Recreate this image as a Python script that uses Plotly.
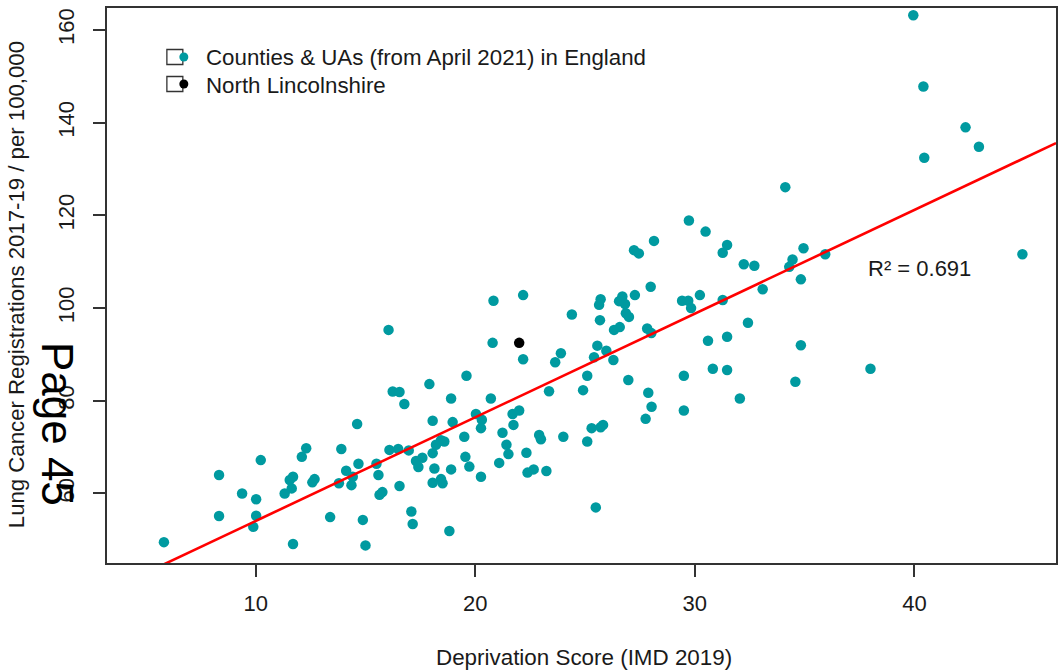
import plotly.graph_objects as go

# ---------------- data ----------------
imd_score = [
    16.05, 16.24, 16.55, 16.77, 14.62, 12.30, 12.10, 13.90, 16.09, 16.49, 16.97, 10.23,
    14.68, 15.50, 15.59, 8.33, 11.70, 11.55, 12.68, 12.58, 14.12, 14.42, 13.79, 14.36,
    16.55, 9.38, 11.32, 11.64, 10.02, 15.77, 15.64, 8.33, 10.02, 9.89, 13.39, 14.88,
    17.09, 17.15, 5.82, 11.70, 15.00, 17.30, 17.59, 17.41,
    29.73, 28.14, 27.23, 27.45, 27.99, 22.18, 20.83, 24.40, 25.71, 25.64, 26.55, 26.70,
    26.82, 26.86, 27.00, 27.27, 25.68, 26.32, 26.58, 27.83, 28.02, 29.42, 29.70, 29.83,
    30.23, 20.79, 22.18, 23.90, 23.64, 25.56, 25.41, 25.97, 26.29, 29.50, 26.97, 25.10,
    24.91, 23.36, 19.60, 17.91, 18.90, 20.71, 27.88, 28.03, 27.76, 29.50, 20.03, 20.30,
    21.70, 22.00, 18.06, 18.97, 20.26, 21.74, 19.50, 21.24, 22.91, 22.99, 24.01, 25.30,
    25.71, 25.82, 25.10, 18.44, 18.59, 18.21, 18.06, 19.55, 19.73, 21.42, 21.51, 21.09,
    22.33, 18.14, 18.90, 20.26, 22.38, 22.66, 23.24, 18.06, 18.44, 18.51, 25.49, 18.82,
    39.95, 40.41, 42.33, 42.94, 40.45, 34.12, 30.49, 31.47, 31.27, 34.95, 34.45, 34.30,
    32.23, 32.71, 34.83, 35.94, 44.92, 31.27, 33.09, 32.42, 30.60, 31.47, 34.83, 30.82,
    31.47, 34.58, 38.00, 32.05,
]
lung_rate = [
    95.3, 82.0, 81.9, 79.3, 75.0, 69.75, 67.9, 69.6, 69.4, 69.6, 69.3, 67.2,
    66.4, 66.4, 64.0, 64.0, 63.6, 62.9, 63.1, 62.4, 64.9, 63.6, 62.2, 61.8,
    61.6, 60.0, 60.0, 61.1, 58.75, 60.3, 59.7, 55.15, 55.2, 52.8, 54.9, 54.3,
    56.1, 53.4, 49.5, 49.1, 48.8, 67.0, 67.7, 65.7,
    118.9, 114.5, 112.5, 111.8, 104.6, 102.8, 101.6, 98.6, 101.9, 100.7, 101.5, 102.5,
    100.9, 98.9, 98.1, 102.8, 97.4, 95.3, 95.9, 95.6, 94.6, 101.6, 101.6, 100.0,
    102.8, 92.5, 88.95, 90.25, 88.3, 91.9, 89.4, 90.8, 88.8, 85.4, 84.5, 85.4,
    82.3, 82.05, 85.4, 83.6, 80.5, 80.5, 81.75, 78.7, 76.1, 77.9, 77.15, 75.9,
    77.15, 77.9, 75.7, 75.4, 74.1, 74.8, 72.25, 73.1, 72.6, 71.7, 72.25, 74.1,
    74.3, 74.8, 71.2, 71.5, 71.2, 70.5, 68.7, 67.9, 65.8, 70.5, 68.5, 66.6,
    68.8, 65.4, 65.2, 63.6, 64.5, 65.2, 64.85, 62.3, 63.1, 62.2, 57.0, 51.9,
    163.2, 147.8, 139.0, 134.8, 132.45, 126.1, 116.5, 113.6, 111.95, 112.9, 110.5, 108.9,
    109.45, 109.15, 106.2, 111.6, 111.6, 101.75, 104.05, 96.85, 92.95, 93.8, 92.0, 86.9,
    86.65, 84.1, 86.9, 80.5,
]
highlight_x = [22.0]
highlight_y = [92.5]

fit_intercept = 31.7
fit_slope = 2.237
r_squared_label = "R² = 0.691"

x_ticks = [10, 20, 30, 40]
y_ticks = [60, 80, 100, 120, 140, 160]

legend_labels = ["Counties & UAs (from April 2021) in England", "North Lincolnshire"]
x_title = "Deprivation Score (IMD 2019)"
y_title = "Lung Cancer Registrations 2017-19 / per 100,000"
page_label = "Page 45"

# ---------------- styling ----------------
TEAL = "#009aa0"
AX = "#333333"
FONT = "Liberation Sans, Arial, sans-serif"
TXT = "#1a1a1a"
W, H = 1064, 671
L, R, T, B = 107, 6, 8, 108
x_range = [3.227, 46.45]
y_range = [45.0, 164.75]


def px(xp):
    return (xp - L) / (W - L - R)


def py(yp):
    return (H - B - yp) / (H - B - T)


fig = go.Figure()

fig.add_trace(go.Scatter(
    x=imd_score, y=lung_rate, mode="markers",
    marker=dict(color=TEAL, size=10.5, line=dict(width=0)),
    showlegend=False, hoverinfo="x+y",
))

line_x = list(x_range)
line_y = [fit_intercept + fit_slope * v for v in line_x]
fig.add_trace(go.Scatter(
    x=line_x, y=line_y, mode="lines",
    line=dict(color="#ff0000", width=2.6),
    showlegend=False, hoverinfo="skip",
))

fig.add_trace(go.Scatter(
    x=highlight_x, y=highlight_y, mode="markers",
    marker=dict(color="black", size=10.5, line=dict(width=0)),
    showlegend=False,
))

axis_common = dict(
    showline=True, mirror=True, linecolor=AX, linewidth=1.5,
    showgrid=False, zeroline=False,
    ticks="outside", ticklen=12, tickwidth=1.5, tickcolor=AX,
    tickfont=dict(family=FONT, size=22, color=TXT),
)

fig.update_xaxes(range=x_range, tickvals=x_ticks, ticklabelstandoff=8, **axis_common)
fig.update_yaxes(range=y_range, tickvals=y_ticks, tickangle=-90, ticklabelstandoff=10, **axis_common)

shapes = []
annotations = []

# legend (R-style: empty box with point marker)
for i, (lab, col) in enumerate(zip(legend_labels, [TEAL, "black"])):
    cy = 57 + i * 27
    shapes.append(dict(type="rect", xref="paper", yref="paper",
                       x0=px(167), x1=px(183), y0=py(cy - 7.5), y1=py(cy + 7.5),
                       line=dict(color=AX, width=1.3), fillcolor="rgba(0,0,0,0)"))
    shapes.append(dict(type="circle", xref="paper", yref="paper",
                       x0=px(184 - 4.5), x1=px(184 + 4.5), y0=py(cy - 4.5), y1=py(cy + 4.5),
                       line=dict(width=0), fillcolor=col))
    annotations.append(dict(text=lab, xref="paper", yref="paper",
                            x=px(204), y=py(cy + 1), xanchor="left", yanchor="middle",
                            showarrow=False, font=dict(family=FONT, size=22.3, color=TXT)))

annotations.append(dict(text=r_squared_label, x=37.8, y=108.6, xref="x", yref="y",
                        xanchor="left", yanchor="middle", showarrow=False,
                        font=dict(family=FONT, size=22, color=TXT)))

annotations.append(dict(text=x_title, xref="paper", yref="paper", x=px(585), y=py(657),
                        xanchor="center", yanchor="middle", showarrow=False,
                        font=dict(family=FONT, size=22.4, color=TXT)))
annotations.append(dict(text=y_title, xref="paper", yref="paper", x=px(16), y=py(285),
                        xanchor="center", yanchor="middle", textangle=-90, showarrow=False,
                        font=dict(family=FONT, size=22.2, color=TXT)))
annotations.append(dict(text=page_label, xref="paper", yref="paper", x=px(58), y=py(424),
                        xanchor="center", yanchor="middle", textangle=90, showarrow=False,
                        font=dict(family=FONT, size=44, color="black")))

fig.update_layout(
    width=W, height=H,
    margin=dict(l=L, r=R, t=T, b=B, pad=0),
    paper_bgcolor="white", plot_bgcolor="white",
    font=dict(family=FONT, color=TXT),
    shapes=shapes, annotations=annotations,
    showlegend=False,
)

fig.write_html("out.html")
